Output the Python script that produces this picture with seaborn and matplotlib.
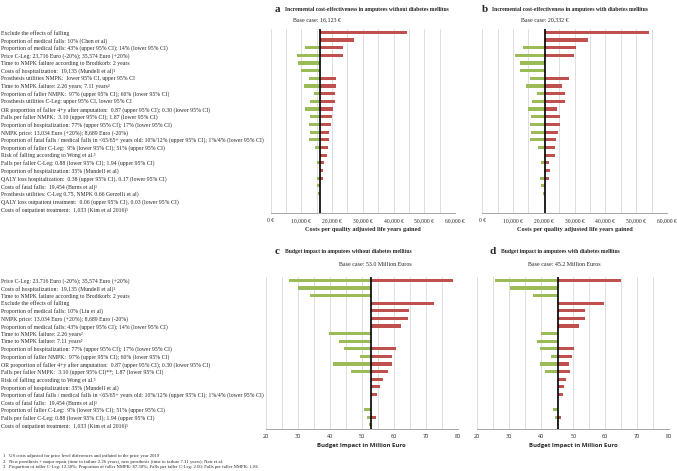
import matplotlib
matplotlib.use("Agg")
import matplotlib.pyplot as plt
import seaborn as sns
import numpy as np

# --- data: panels a/b (cost-effectiveness, EUR per QALY) ---
labels_ab = [
    "Exclude the effects of falling",
    "Proportion of medical falls: 10% (Chen et al)",
    "Proportion of medical falls: 43% (upper 95% CI); 14% (lower 95% CI)",
    "Price C-Leg: 23,716 Euro (-20%); 35,574 Euro (+20%)",
    "Time to NMPK failure according to Brodtkorb: 2 years",
    "Costs of hospitalization:  19,135 (Mundell et al)\u00b9",
    "Prosthesis utilities NMPK:  lower 95% CI, upper 95% CI",
    "Time to NMPK failure: 2.26 years; 7.11 years\u00b2",
    "Proportion of faller NMPK:  97% (upper 95% CI); 60% (lower 95% CI)",
    "Prosthesis utilities C-Leg: upper 95% CI, lower 95% CI",
    "OR proportion of faller 4+y after amputation:  0.87 (upper 95% CI); 0.30 (lower 95% CI)",
    "Falls per faller NMPK:  3.10 (upper 95% CI); 1.87 (lower 95% CI)",
    "Proportion of hospitalization: 77% (upper 95% CI); 17% (lower 95% CI)",
    "NMPK price: 13,034 Euro (+20%); 8,689 Euro (-20%)",
    "Proportion of fatal falls / medical falls in <65/65+ years old: 10%/12% (upper 95% CI); 1%/4% (lower 95% CI)",
    "Proportion of faller C-Leg:  9% (lower 95% CI); 51% (upper 95% CI)",
    "Risk of falling according to Wong et al.\u00b3",
    "Falls per faller C-Leg: 0.88 (lower 95% CI); 1.94 (upper 95% CI)",
    "Proportion of hospitalization: 35% (Mundell et al)",
    "QALY loss hospitalization:  0.38 (upper 95% CI), 0.17 (lower 95% CI)",
    "Costs of fatal falls:  19,454 (Burns et al)\u00b9",
    "Prosthesis utilities: C-Leg 0.75, NMPK 0.66 Gerzelli et al)",
    "QALY loss outpatient treatment:  0.06 (upper 95% CI), 0.03 (lower 95% CI)",
    "Costs of outpatient treatment:  1,033 (Kim et al 2016)\u00b9",
]
base_a = 16123
a_low = [16123, 16123, 11200, 8600, 9000, 9900, 12600, 10900, 14200, 12900, 11300, 12800,
         12600, 12800, 12600, 14500, 16123, 15100, 16123, 15000, 15100, 15300, 16123, 16123]
a_high = [44350, 27000, 23600, 23400, 16123, 16123, 21200, 21200, 21000, 20800, 20200, 19900,
          19500, 19100, 18900, 18600, 18400, 17250, 17100, 16950, 16123, 16123, 16123, 16123]

base_b = 20332
b_low = [20332, 20332, 13200, 10600, 12400, 12400, 15500, 14300, 17700, 16200, 15000, 15800,
         15600, 15800, 15400, 18200, 20332, 19100, 20332, 18800, 19100, 19600, 20332, 20332]
b_high = [54250, 34400, 30300, 29800, 20332, 20332, 28100, 25900, 26900, 26900, 24200, 25300,
          25300, 24500, 24100, 23650, 23550, 21800, 21900, 21600, 20332, 20332, 20332, 20332]

# --- data: panels c/d (budget impact, million EUR) ---
labels_cd = [
    "Price C-Leg: 23,716 Euro (-20%); 35,574 Euro (+20%)",
    "Costs of hospitalization:  19,135 (Mundell et al)\u00b9",
    "Time to NMPK failure according to Brodtkorb: 2 years",
    "Exclude the effects of falling",
    "Proportion of medical falls: 10% (Liu et al)",
    "NMPK price: 13,034 Euro (+20%); 8,689 Euro (-20%)",
    "Proportion of medical falls: 43% (upper 95% CI); 14% (lower 95% CI)",
    "Time to NMPK failure: 2.26 years\u00b2",
    "Time to NMPK failure: 7.11 years\u00b2",
    "Proportion of hospitalization: 77% (upper 95% CI); 17% (lower 95% CI)",
    "Proportion of faller NMPK:  97% (upper 95% CI); 60% (lower 95% CI)",
    "OR proportion of faller 4+y after amputation:  0.87 (upper 95% CI); 0.30 (lower 95% CI)",
    "Falls per faller NMPK:  3.10 (upper 95% CI)**; 1.87 (lower 95% CI)",
    "Risk of falling according to Wong et al.\u00b3",
    "Proportion of hospitalization: 35% (Mundell et al)",
    "Proportion of fatal falls / medical falls in <65/65+ years old: 10%/12% (upper 95% CI); 1%/4% (lower 95% CI)",
    "Costs of fatal falls:  19,454 (Burns et al)\u00b9",
    "Proportion of faller C-Leg:  9% (lower 95% CI); 51% (upper 95% CI)",
    "Falls per faller C-Leg: 0.88 (lower 95% CI); 1.94 (upper 95% CI)",
    "Costs of outpatient treatment:  1,033 (Kim et al 2016)\u00b9",
]
base_c = 53.0
c_low = [27.4, 30.0, 33.9, 53.0, 53.0, 53.0, 53.0, 39.9, 42.9, 44.5,
         49.5, 40.9, 46.7, 53.0, 53.0, 53.0, 53.0, 50.7, 51.8, 52.4]
c_high = [78.4, 53.0, 53.0, 72.5, 64.9, 64.4, 62.2, 53.0, 53.0, 60.6,
          59.4, 59.4, 58.1, 56.6, 55.6, 54.7, 53.0, 53.0, 54.4, 53.0]

base_d = 45.2
d_low = [25.5, 30.2, 37.3, 45.2, 45.2, 45.2, 45.2, 40.0, 38.6, 39.6,
         42.9, 39.5, 41.0, 45.2, 45.2, 45.2, 45.2, 43.5, 44.3, 44.8]
d_high = [64.9, 45.2, 45.2, 59.6, 53.6, 53.6, 51.7, 45.2, 45.2, 50.2,
          49.7, 48.6, 48.9, 47.7, 47.0, 46.8, 45.2, 45.2, 46.3, 45.2]

footnotes = [
    "1   US costs adjusted for price level differences and inflated to the price year 2019",
    "2   New prosthesis + major repair (time to failure 2.26 years), new prosthesis (time to failure 7.11 years); Nair et al.",
    "3   Proportion of faller C-Leg: 12.50%; Proportion of faller NMPK: 87.50%; Falls per faller C-Leg: 2.00; Falls per faller NMPK: 1.86",
]

RED = "#C0504D"
GREEN = "#9BBB59"
W, H = 677, 471
LABEL_FS = 4.15

sns.set_theme(style="white")
plt.rcParams["font.family"] = ["Liberation Serif", "DejaVu Serif"]


def px_axes(fig, x0, y0, x1, y1):
    return fig.add_axes([x0 / W, 1 - y1 / H, (x1 - x0) / W, (y1 - y0) / H])


def tornado(ax, labels, low, high, base, xlim, major, minor, show_labels, label_pad):
    low = np.array(low, dtype=float)
    high = np.array(high, dtype=float)
    sns.barplot(x=base - low, y=labels, order=labels, orient="h", left=low,
                color=GREEN, width=0.42, errorbar=None, saturation=1, linewidth=0, ax=ax)
    sns.barplot(x=high - base, y=labels, order=labels, orient="h", left=np.full(len(labels), base),
                color=RED, width=0.42, errorbar=None, saturation=1, linewidth=0, ax=ax)
    ax.set_xlim(*xlim)
    ax.set_ylim(len(labels) - 0.5, -0.5)
    ax.set_xticks(major)
    ax.set_xticks(minor, minor=True)
    ax.xaxis.grid(True, which="both", color="#d9d9d9", linewidth=0.6)
    ax.set_axisbelow(True)
    ax.axvline(base, color="black", linewidth=1.2, zorder=5)
    for s in ["top", "right", "left"]:
        ax.spines[s].set_visible(False)
    ax.spines["bottom"].set_color("#a6a6a6")
    ax.spines["bottom"].set_linewidth(0.7)
    ax.tick_params(axis="x", which="both", length=2, width=0.5, color="#a6a6a6", pad=2)
    ax.set_ylabel("")
    ax.set_xlabel("")
    if show_labels:
        ax.tick_params(axis="y", length=0, pad=label_pad)
        ax.set_yticks(range(len(labels)))
        ax.set_yticklabels(labels, ha="left", fontsize=LABEL_FS)
    else:
        ax.set_yticks([])


fig = plt.figure(figsize=(W / 100, H / 100), dpi=100)

# a
ax_a = px_axes(fig, 270.7, 28.5, 455.0, 212.7)
ticks_ab = np.arange(0, 60001, 10000)
tornado(ax_a, labels_ab, a_low, a_high, base_a, (0, 60000), ticks_ab,
        np.arange(0, 60001, 5000), True, (270.7 - 1) * 0.72)
ax_a.set_xticklabels([f"{t:,} \u20ac" for t in ticks_ab], fontsize=4.1)
ax_a.set_xlabel("Costs per quality adjusted life years gained", fontsize=4.5,
                fontweight="bold", labelpad=2.5)

# b
ax_b = px_axes(fig, 482.3, 28.5, 667.0, 212.7)
tornado(ax_b, labels_ab, b_low, b_high, base_b, (0, 60000), ticks_ab,
        np.arange(0, 60001, 5000), False, 0)
ax_b.set_xticklabels([f"{t:,} \u20ac" for t in ticks_ab], fontsize=4.1)
ax_b.set_xlabel("Costs per quality adjusted life years gained", fontsize=4.5,
                fontweight="bold", labelpad=2.5)

# c
ticks_cd = np.arange(20, 81, 10)
ax_c = px_axes(fig, 265.7, 276.5, 457.7, 428.7)
tornado(ax_c, labels_cd, c_low, c_high, base_c, (20, 80), ticks_cd,
        np.arange(20, 81, 5), True, (265.7 - 1) * 0.72)
ax_c.set_xticklabels([str(t) for t in ticks_cd], fontsize=4, family=["Open Sans", "DejaVu Sans"])
ax_c.set_xlabel("Budget Impact in Million Euro", fontsize=4.3, fontweight="bold",
                family=["Open Sans", "DejaVu Sans"], labelpad=3)

# d
ax_d = px_axes(fig, 477.3, 276.5, 669.3, 428.7)
tornado(ax_d, labels_cd, d_low, d_high, base_d, (20, 80), ticks_cd,
        np.arange(20, 81, 5), False, 0)
ax_d.set_xticklabels([str(t) for t in ticks_cd], fontsize=4, family=["Open Sans", "DejaVu Sans"])
ax_d.set_xlabel("Budget Impact in Million Euro", fontsize=4.3, fontweight="bold",
                family=["Open Sans", "DejaVu Sans"], labelpad=3)


def ftext(x, y, s, **kw):
    fig.text(x / W, 1 - y / H, s, **kw)


# panel titles
ftext(275, 9, "a", fontsize=8, fontweight="bold", va="center")
ftext(285, 9, "Incremental cost-effectiveness in amputees without diabetes mellitus",
      fontsize=4.05, fontweight="bold", va="center")
ftext(482, 9, "b", fontsize=8, fontweight="bold", va="center")
ftext(492, 9, "Incremental cost-effectiveness in amputees with diabetes mellitus",
      fontsize=4.05, fontweight="bold", va="center")
ftext(275, 251, "c", fontsize=8, fontweight="bold", va="center")
ftext(285, 251, "Budget impact in amputees without diabetes mellitus",
      fontsize=4.1, fontweight="bold", va="center")
ftext(489, 251, "d", fontsize=8, fontweight="bold", va="center")
ftext(501, 251, "Budget impact in amputees with diabetes mellitus",
      fontsize=4.1, fontweight="bold", va="center")

ftext(317, 20, "Base case: 16,123 \u20ac", fontsize=4.3, ha="center", va="center")
ftext(545, 20, "Base case: 20,332 \u20ac", fontsize=4.3, ha="center", va="center")
ftext(375, 264, "Base case: 53.0 Million Euros", fontsize=4.3, ha="center", va="center")
ftext(564, 264, "Base case: 45.2 Million Euros", fontsize=4.3, ha="center", va="center")

for i, note in enumerate(footnotes):
    ftext(3, 456 + i * 5.5, note, fontsize=3.4, va="center")

fig.savefig("out.png", dpi=100)
